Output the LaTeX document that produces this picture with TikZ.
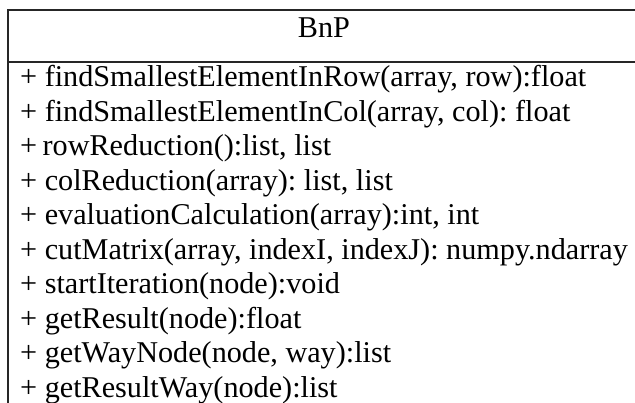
\documentclass[tikz,border=0pt]{standalone}
\usepackage{fontspec}
\setmainfont{Liberation Serif}
\frenchspacing
\begin{document}
\begin{tikzpicture}[x=1pt,y=1pt,
  frame/.style={draw=black!85,line width=1.4pt},
  title/.style={anchor=base,inner sep=0pt,font=\fontsize{30.2}{34}\selectfont},
  member/.style={anchor=base west,inner sep=0pt,font=\fontsize{30.2}{34}\selectfont}]
\useasboundingbox (0,0) rectangle (635,403);
\clip (0,0) rectangle (635,403);
% class box: top edge, left edge and the divider under the name
\draw[frame] (645,393) -- (8,393) -- (8,-10);
\draw[frame] (8,341) -- (645,341);
% class name
\node[title] (name) at (324,365) {BnP};
% operations
\node[member] (m1)  at (20,316.0) {+ findSmallestElementInRow(array, row):float};
\node[member] (m2)  at (20,281.5) {+ findSmallestElementInCol(array, col): float};
\node[member] (m3)  at (20,247.0) {+\hspace{0.18em}rowReduction():list, list};
\node[member] (m4)  at (20,212.5) {+ colReduction(array): list, list};
\node[member] (m5)  at (20,178.0) {+ evaluationCalculation(array):int, int};
\node[member] (m6)  at (20,143.5) {+ cutMatrix(array, indexI, indexJ): numpy.ndarray};
\node[member] (m7)  at (20,109.0) {+ startIteration(node):void};
\node[member] (m8)  at (20,74.5)  {+ getResult(node):float};
\node[member] (m9)  at (20,40.0)  {+ getWayNode(node, way):list};
\node[member] (m10) at (20,5.5)   {+ getResultWay(node):list};
\end{tikzpicture}
\end{document}
